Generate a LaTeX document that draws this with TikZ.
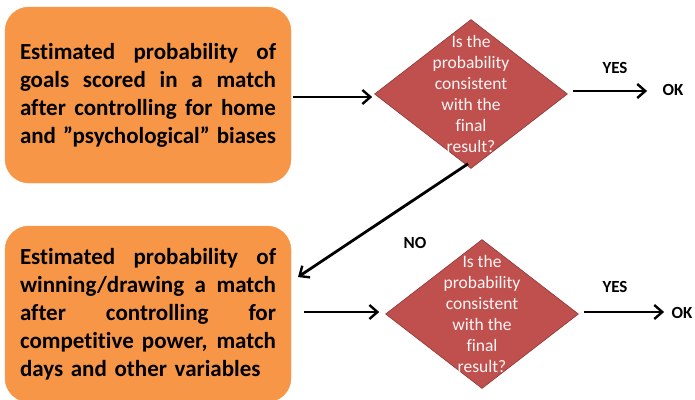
\documentclass[tikz,border=0pt]{standalone}
\usepackage{fontspec}
\setmainfont{Carlito}[Ligatures=NoCommon]
\usetikzlibrary{positioning,arrows.meta,shapes.geometric}

\definecolor{boxorange}{HTML}{F79646}
\definecolor{checkred}{HTML}{C0504D}
\definecolor{checkedge}{HTML}{8C3836}

\newcommand{\jline}[1]{\makebox[256pt][s]{\spaceskip=0.22em plus 1fil\relax #1}}

\tikzset{
  estbox/.style={fill=boxorange, draw=boxorange, rounded corners=24pt,
    minimum width=286pt, minimum height=176pt, inner sep=0pt},
  esttext/.style={text width=256pt, align=left, font=\bfseries\fontsize{23}{28}\selectfont},
  decision/.style={diamond, fill=checkred, draw=checkedge, line width=0.6pt,
    minimum width=193pt, minimum height=149pt, inner sep=0pt},
  qtext/.style={align=center, text=white!95!checkred, font=\fontsize{17.5}{21}\selectfont},
  answer/.style={font=\bfseries\fontsize{17}{19}\selectfont},
  flow/.style={line width=2.8pt, -{Straight Barb[length=8pt,width=14pt,line width=2.4pt]}}
}

\begin{document}
\begin{tikzpicture}[x=1pt,y=-1pt]
  \useasboundingbox (0,0) rectangle (695,399);
  % upper row
  \node[estbox] (estgoals) at (148,95) {};
  \node[esttext] (goalstext) at (estgoals) {\jline{Estimated probability of}\\\jline{goals scored in a match}\\\jline{after controlling for home}\\\jline{and ”psychological” biases}};
  \node[decision] (check1) at (471,94) {};
  \node[qtext] at (check1) {Is the\\probability\\consistent\\with the\\final\\result?};
  \node[answer] (ok1) at (673,90) {OK};
  \node[answer] (yes1) at (615,68) {YES};
  % lower row
  \node[estbox] (estwin) at (148,314) {};
  \node[esttext] (wintext) at (estwin) {\jline{Estimated probability of}\\\jline{winning/drawing a match}\\\jline{after controlling for}\\\jline{competitive power, match}\\days and other variables};
  \node[decision] (check2) at (482,314) {};
  \node[qtext] at (check2) {Is the\\probability\\consistent\\with the\\final\\result?};
  \node[answer] (ok2) at (682,313) {OK};
  \node[answer] (yes2) at (615,287) {YES};
  \node[answer] (no) at (415,243) {NO};
  \coordinate (noend) at (298,277);
  % connectors
  \draw[flow, shorten <=2pt, shorten >=2pt] (estgoals.east |- 0,97) -- (check1.west |- 0,97);
  \draw[flow, shorten <=5pt] (check1.east |- 0,91) -- ([xshift=-12pt]ok1.west |- 0,91);
  \draw[flow] ([shift={(-3pt,5pt)}]check1.south) -- (noend);
  \draw[flow, shorten <=13pt, shorten >=6pt] (estwin.east |- 0,312) -- (check2.west |- 0,312);
  \draw[flow, shorten <=5pt] (check2.east |- 0,312) -- ([xshift=-4pt]ok2.west |- 0,312);
\end{tikzpicture}
\end{document}
